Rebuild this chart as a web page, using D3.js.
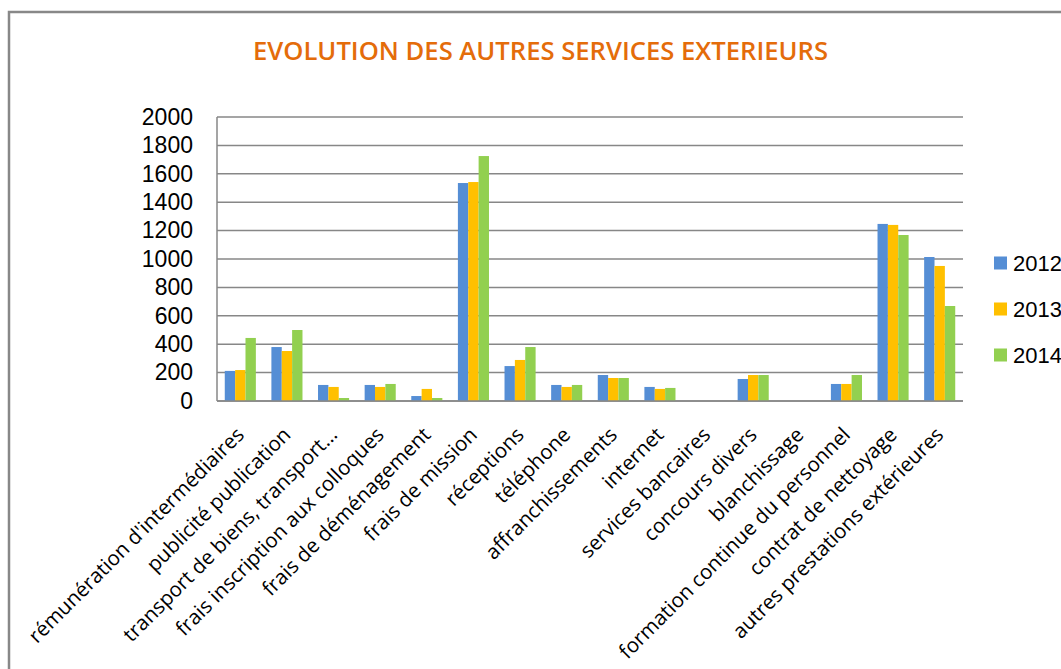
<!DOCTYPE html>
<html>
<head>
<meta charset="utf-8">
<script src="https://cdn.jsdelivr.net/npm/d3@7"></script>
<style>
  html, body { margin: 0; padding: 0; background: #fff; }
  svg { display: block; }
</style>
</head>
<body>
<svg id="chart" width="1061" height="669"></svg>
<script>
const categories = [
  "rémunération d'intermédiaires",
  "publicité publication",
  "transport de biens, transport…",
  "frais inscription aux colloques",
  "frais de déménagement",
  "frais de mission",
  "réceptions",
  "téléphone",
  "affranchissements",
  "internet",
  "services bancaires",
  "concours divers",
  "blanchissage",
  "formation continue du personnel",
  "contrat de nettoyage",
  "autres prestations extérieures"
];
const seriesNames = ["2012", "2013", "2014"];
const values2012 = [212, 380, 113, 113, 35, 1535, 246, 113, 183, 99, 0, 155, 0, 120, 1247, 1014];
const values2013 = [218, 352, 99, 99, 85, 1542, 289, 99, 162, 85, 0, 183, 0, 120, 1240, 951];
const values2014 = [444, 500, 21, 120, 21, 1725, 380, 113, 162, 92, 0, 183, 0, 183, 1169, 669];
const yTicks = [0, 200, 400, 600, 800, 1000, 1200, 1400, 1600, 1800, 2000];
const colors = ["#558ED5", "#FFC000", "#92D050"];
const title = "EVOLUTION DES AUTRES SERVICES EXTERIEURS";

const series = [values2012, values2013, values2014];

const svg = d3.select("#chart");
const W = 1061, H = 669;
const plot = { left: 217, right: 963, top: 117, bottom: 401 };

// chart border (outer frame)
svg.append("rect")
  .attr("x", 9).attr("y", 12)
  .attr("width", W + 20).attr("height", H + 20)
  .attr("fill", "#fff")
  .attr("stroke", "#888888").attr("stroke-width", 2.5);

// title
svg.append("text")
  .attr("x", 253).attr("y", 60)
  .attr("textLength", 575)
  .attr("lengthAdjust", "spacingAndGlyphs")
  .attr("font-family", "'Open Sans', sans-serif")
  .attr("font-weight", 600)
  .attr("font-size", 25)
  .attr("fill", "#E46C0A")
  .text(title);

const y = d3.scaleLinear().domain([0, 2000]).range([plot.bottom, plot.top]);
const x0 = d3.scaleBand().domain(categories).range([plot.left, plot.right])
  .paddingInner(1 / 3).paddingOuter(1 / 6);
const x1 = d3.scaleBand().domain(seriesNames).range([0, x0.bandwidth()]);

// gridlines
svg.append("g").selectAll("line").data(yTicks).join("line")
  .attr("x1", plot.left).attr("x2", plot.right)
  .attr("y1", d => y(d)).attr("y2", d => y(d))
  .attr("stroke", "#878787").attr("stroke-width", 1.5);

// y axis line
svg.append("line")
  .attr("x1", plot.left).attr("x2", plot.left)
  .attr("y1", plot.top).attr("y2", plot.bottom)
  .attr("stroke", "#878787").attr("stroke-width", 1.5);

// y tick labels
const yAxis = d3.axisLeft(y).tickValues(yTicks).tickFormat(d3.format("d")).tickSize(0).tickPadding(24);
const yg = svg.append("g").attr("transform", `translate(${plot.left},0)`).call(yAxis);
yg.select(".domain").remove();
yg.selectAll("text")
  .attr("font-family", "'Liberation Sans', sans-serif")
  .attr("font-size", 23)
  .attr("fill", "#000");

// bars
const groups = svg.append("g").selectAll("g").data(categories).join("g")
  .attr("transform", d => `translate(${x0(d)},0)`);
groups.selectAll("rect")
  .data((d, i) => seriesNames.map((s, j) => ({ s, v: series[j][i], c: colors[j] })))
  .join("rect")
  .attr("x", d => x1(d.s))
  .attr("width", x1.bandwidth())
  .attr("y", d => y(d.v))
  .attr("height", d => y(0) - y(d.v))
  .attr("fill", d => d.c);

// x axis baseline
svg.append("line")
  .attr("x1", plot.left).attr("x2", plot.right)
  .attr("y1", plot.bottom).attr("y2", plot.bottom)
  .attr("stroke", "#878787").attr("stroke-width", 1.5);

// x labels
const xAxis = d3.axisBottom(x0).tickSize(0).tickPadding(0);
const xg = svg.append("g").attr("transform", `translate(0,${plot.bottom})`).call(xAxis);
xg.select(".domain").remove();
xg.selectAll(".tick text")
  .attr("font-family", "'Open Sans', sans-serif")
  .attr("font-size", 20.5)
  .attr("fill", "#000")
  .attr("text-anchor", "end")
  .attr("dy", 0)
  .attr("y", 0)
  .attr("transform", "translate(5,35) rotate(-45)");

// legend
const legend = svg.append("g").selectAll("g").data(seriesNames).join("g")
  .attr("transform", (d, i) => `translate(994,${263 + i * 46})`);
legend.append("rect")
  .attr("x", 0).attr("y", -6.5).attr("width", 13).attr("height", 13)
  .attr("fill", (d, i) => colors[i]);
legend.append("text")
  .attr("x", 19).attr("y", 0).attr("dy", "0.36em")
  .attr("font-family", "'Liberation Sans', sans-serif")
  .attr("font-size", 22)
  .attr("fill", "#000")
  .text(d => d);
</script>
</body>
</html>
